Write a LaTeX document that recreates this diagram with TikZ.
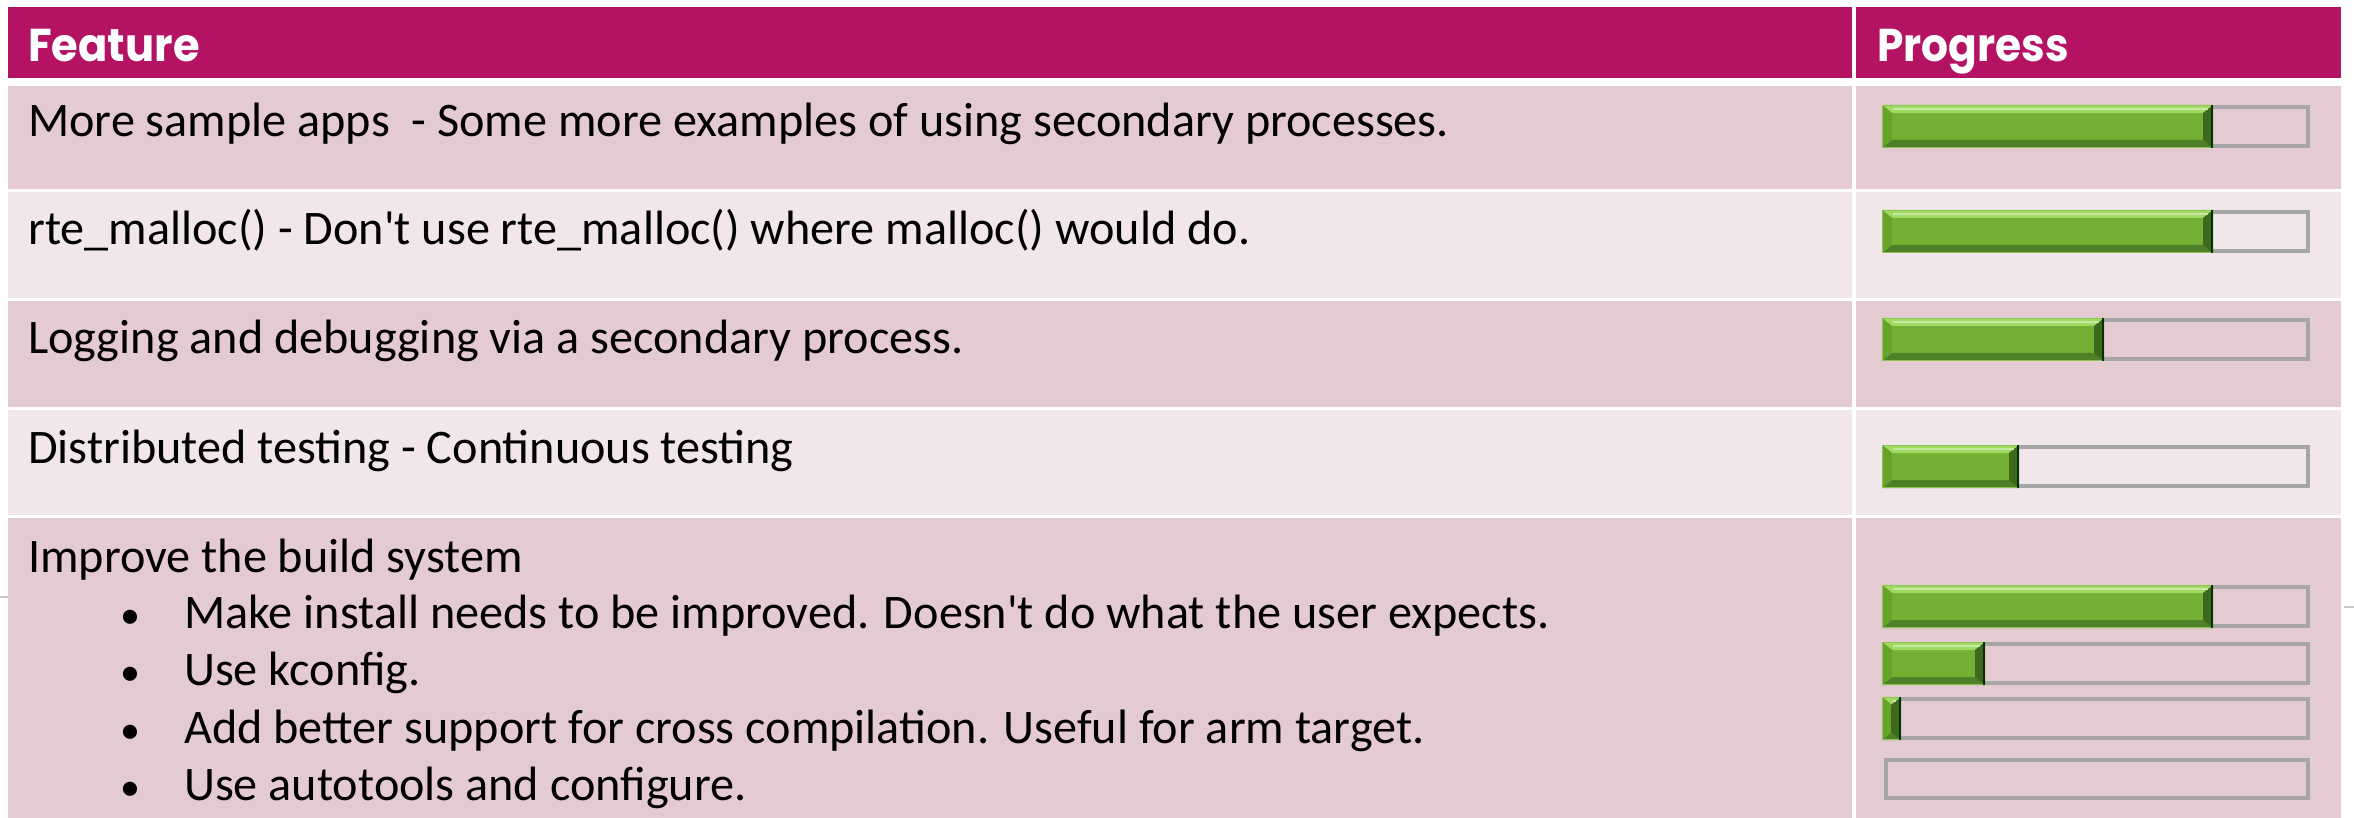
\documentclass[tikz,border=0pt]{standalone}
\usepackage{fontspec}
\setmainfont{Carlito}
\newfontfamily\hdrfont{Poppins}
\definecolor{hdrmag}{RGB}{180,19,100}
\definecolor{rowdark}{RGB}{228,203,209}
\definecolor{rowlight}{RGB}{241,230,234}
\definecolor{framegrey}{RGB}{166,166,166}
\definecolor{gface}{RGB}{116,176,51}
\definecolor{gtop}{RGB}{160,218,98}
\definecolor{gbot}{RGB}{78,128,40}
\definecolor{gleft}{RGB}{104,162,45}
\definecolor{gright}{RGB}{62,104,30}
\definecolor{gedge}{RGB}{140,196,82}
\definecolor{tickgrey}{RGB}{200,200,200}
\newcommand\pbar[2]{%
  \draw[barframe] (1884,{#1+2}) rectangle (2308,{#1+41});
  \fill[gface] (1882,#1) rectangle (#2,{#1+43});
  \fill[gtop] (1882,#1) -- (#2,#1) -- ({#2-10},{#1+8}) -- (1892,{#1+8}) -- cycle;
  \fill[gbot] (1882,{#1+43}) -- (#2,{#1+43}) -- ({#2-10},{#1+35}) -- (1892,{#1+35}) -- cycle;
  \fill[gleft] (1882,#1) -- (1892,{#1+8}) -- (1892,{#1+35}) -- (1882,{#1+43}) -- cycle;
  \fill[gright] (#2,#1) -- ({#2-10},{#1+8}) -- ({#2-10},{#1+35}) -- (#2,{#1+43}) -- cycle;
  \draw[gtop!60!white, line width=1.2] (1893,{#1+4}) -- ({#2-5},{#1+4});
  \draw[gedge, line width=1] (1882.5,{#1+0.5}) rectangle ({#2-0.5},{#1+42.5});
  \draw[black!80!green, line width=1.6] ({#2-0.8},#1) -- ({#2-0.8},{#1+43});
}
\begin{document}
\begin{tikzpicture}[x=1pt,y=-1pt,
  hdrtxt/.style={anchor=base west, inner sep=0pt, text=white,
    font=\hdrfont\bfseries\fontsize{46}{52}\selectfont},
  bodytxt/.style={anchor=base west, inner sep=0pt, text=black,
    font=\fontsize{48.2}{57}\selectfont},
  bul/.style={anchor=base, inner sep=0pt, text=black,
    font=\fontsize{40}{57}\selectfont},
  barframe/.style={draw=framegrey, line width=4pt}]
\useasboundingbox (0,0) rectangle (2354,818);
\fill[white] (0,0) rectangle (2354,818);
% header
\fill[hdrmag] (8,7) rectangle (1852,78);
\fill[hdrmag] (1856,7) rectangle (2341,78);
% rows
\fill[rowdark]  (8,86)  rectangle (1852,189);  \fill[rowdark]  (1856,86)  rectangle (2341,189);
\fill[rowlight] (8,192) rectangle (1852,298);  \fill[rowlight] (1856,192) rectangle (2341,298);
\fill[rowdark]  (8,301) rectangle (1852,407);  \fill[rowdark]  (1856,301) rectangle (2341,407);
\fill[rowlight] (8,410) rectangle (1852,515);  \fill[rowlight] (1856,410) rectangle (2341,515);
\fill[rowdark]  (8,518) rectangle (1852,818);  \fill[rowdark]  (1856,518) rectangle (2341,818);
% small ticks outside the table
\draw[tickgrey, line width=1.2] (0,597) -- (8,597);
\draw[tickgrey, line width=1.2] (2344,607) -- (2354,607);
% header texts
\node[hdrtxt] (hfeat) at (28,62) {\scalebox{0.94}[1]{Feature}};
\node[hdrtxt] (hprog) at (1877,62) {\scalebox{0.92}[1]{Progress}};
% body texts
\node[bodytxt] (t1) at (28,137) {More sample apps\ \ - Some more examples of using secondary processes.};
\node[bodytxt] (t2) at (28,245) {rte\_malloc() - Don\textquotesingle t use rte\_malloc() where malloc() would do.};
\node[bodytxt] (t3) at (28,353) {Logging and debugging via a secondary process.};
\node[bodytxt] (t4) at (28,463) {Distributed testing - Continuous testing};
\node[bodytxt] (t5) at (28,572) {Improve the build system};
\node[bul] (b1) at (130,628) {•};
\node[bul] (b2) at (130,685) {•};
\node[bul] (b3) at (130,743) {•};
\node[bul] (b4) at (130,800) {•};
\node[bodytxt] (s1) at (184,628) {Make install needs to be improved. Doesn\textquotesingle t do what the user expects.};
\node[bodytxt] (s2) at (184,685) {Use kconfig.};
\node[bodytxt] (s3) at (184,743) {Add better support for cross compilation. Useful for arm target.};
\node[bodytxt] (s4) at (184,800) {Use autotools and configure.};
% progress bars
\pbar{105}{2213}
\pbar{210}{2213}
\pbar{318}{2104}
\pbar{445}{2019}
\pbar{585}{2213}
\pbar{642}{1985}
\pbar{697}{1901}
\draw[barframe] (1886,{760}) rectangle (2308,{798});
\end{tikzpicture}
\end{document}
